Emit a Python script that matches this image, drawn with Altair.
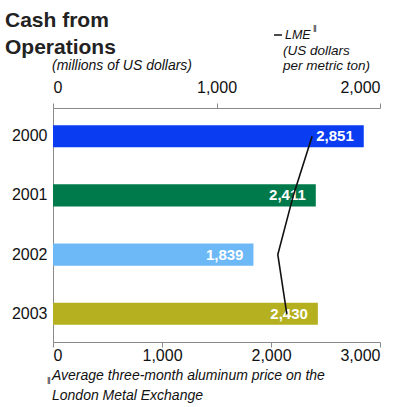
import altair as alt
import pandas as pd

# Cash from operations (millions of US dollars) and LME aluminum price (US$/t)
years = ["2000", "2001", "2002", "2003"]
cash = [2851, 2411, 1839, 2430]
lme = [1585, 1470, 1375, 1430]
bar_colors = ["#0a3cf2", "#007a4a", "#6db9f8", "#b4b020"]
cash_ticks = [0, 1000, 2000, 3000]
lme_ticks = [0, 1000, 2000]

title_lines = ["Cash from", "Operations"]
subtitle = "(millions of US dollars)"
lme_legend = ["LME", "(US dollars", "per metric ton)"]
footnote = ["Average three-month aluminum price on the", "London Metal Exchange"]
mark_sym = "\u2016"

FONT = "Liberation Sans"
W, H = 327, 234

df = pd.DataFrame({
    "Year": years,
    "Cash": cash,
    "LME": lme,
    "Label": [f"{v:,}" for v in cash],
    "idx": list(range(len(years))),
})

axis_common = dict(
    title=None, grid=False, domainColor="#8a8a8a", tickColor="#8a8a8a",
    labelFont=FONT, labelFontSize=16, labelColor="#111",
)

y_enc = alt.Y(
    "Year:N", sort=years,
    scale=alt.Scale(paddingInner=0.627, paddingOuter=0.29),
    axis=alt.Axis(ticks=False, labelPadding=6, **axis_common),
)

base = alt.Chart(df)

bars = base.mark_bar().encode(
    x=alt.X(
        "Cash:Q",
        scale=alt.Scale(domain=[0, 3000], nice=False),
        axis=alt.Axis(orient="bottom", values=cash_ticks, format=",d",
                      tickSize=5, labelPadding=0, **axis_common),
    ),
    y=y_enc,
    color=alt.Color("Year:N", scale=alt.Scale(domain=years, range=bar_colors),
                    legend=None),
)

bar_labels = base.mark_text(
    align="right", baseline="middle", dx=-10, color="white",
    font=FONT, fontSize=15, fontWeight="bold",
).encode(
    x="Cash:Q",
    y=alt.Y("Year:N", sort=years),
    text="Label:N",
)

cash_layer = alt.layer(bars, bar_labels)

lme_line = base.mark_line(color="#111", strokeWidth=1.6).encode(
    x=alt.X(
        "LME:Q",
        scale=alt.Scale(domain=[0, 2000], nice=False),
        axis=alt.Axis(orient="top", values=lme_ticks, format=",d",
                      tickSize=5, labelPadding=8, **axis_common),
    ),
    y=alt.Y("Year:N", sort=years),
    order="idx:O",
)

one = pd.DataFrame({"k": [0]})


def note(text, x, y, size=14, style="italic", weight="normal", color="#111"):
    return alt.Chart(one).mark_text(
        align="left", baseline="alphabetic", font=FONT, fontSize=size,
        fontStyle=style, fontWeight=weight, color=color,
    ).encode(x=alt.value(x), y=alt.value(y), text=alt.value(text))


texts = [
    note(title_lines[0], -48, -81, size=21, style="normal", weight="bold", color="#222"),
    note(title_lines[1], -48, -54, size=21, style="normal", weight="bold", color="#222"),
    note(subtitle, -1, -38),
    note(lme_legend[0], 232, -69, size=12.5),
    note(mark_sym, 260, -76, size=9, style="normal"),
    note(lme_legend[1], 230, -53, size=13.5),
    note(lme_legend[2], 230, -38, size=13.5),
    note(mark_sym, -6, 276, size=9, style="normal"),
    note(footnote[0], -1, 272),
    note(footnote[1], -1, 292),
]

legend_dash = alt.Chart(one).mark_rule(color="#111", strokeWidth=1.5).encode(
    x=alt.value(221), x2=alt.value(229), y=alt.value(-73)
)

chart = alt.layer(cash_layer, lme_line, legend_dash, *texts).resolve_scale(
    x="independent"
).properties(
    width=W, height=H,
    autosize=alt.AutoSizeParams(type="none"),
    padding={"left": 53, "top": 108, "right": 23, "bottom": 65},
).configure_view(stroke=None)

chart.save("out.html", embed_options={"renderer": "svg", "actions": False})
